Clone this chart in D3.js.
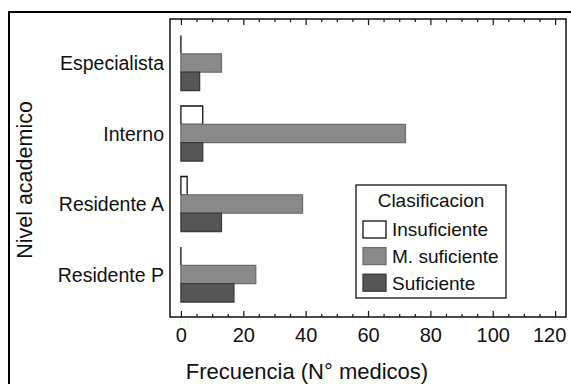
<!DOCTYPE html>
<html>
<head>
<meta charset="utf-8">
<script src="https://cdn.jsdelivr.net/npm/d3@7"></script>
<style>
  body { margin: 0; background: #fff; }
  svg text { font-family: "Liberation Sans", Arial, Helvetica, sans-serif; fill: #111; }
</style>
</head>
<body>
<script>
// chart data
const niveles = ['Especialista', 'Interno', 'Residente A', 'Residente P'];
const clases = ['Insuficiente', 'M. suficiente', 'Suficiente'];
const insuficiente = [0, 7, 2, 0];
const mSuficiente = [13, 72, 39, 24];
const suficiente = [6, 7, 13, 17];
const xTicks = [0, 20, 40, 60, 80, 100, 120];

const width = 571, height = 384;
const frame = { left: 170, right: 566, top: 19, bottom: 317 };

const fills = { 'Insuficiente': '#ffffff', 'M. suficiente': '#8a8a8a', 'Suficiente': '#565656' };
const strokes = { 'Insuficiente': '#111', 'M. suficiente': '#6e6e6e', 'Suficiente': '#3a3a3a' };

let rows = [];
niveles.forEach((n, i) => {
    rows.push({ nivel: n, clase: 'Insuficiente', value: insuficiente[i] });
    rows.push({ nivel: n, clase: 'M. suficiente', value: mSuficiente[i] });
    rows.push({ nivel: n, clase: 'Suficiente', value: suficiente[i] });
});

const svg = d3.select('body').append('svg')
    .attr('width', width)
    .attr('height', height);

// outer figure border (only top and left visible)
svg.append('path')
    .attr('d', 'M9,' + height + 'V12H' + width)
    .attr('fill', 'none')
    .attr('stroke', '#000')
    .attr('stroke-width', 2);

let xScale = d3.scaleLinear()
    .domain([-3.5, 123.5])
    .range([frame.left, frame.right]);

let yScale = d3.scaleBand()
    .domain(niveles)
    .range([27.75, 309.75])
    .paddingInner(0.22)
    .paddingOuter(0.11);

let ySub = d3.scaleBand()
    .domain(clases)
    .range([0, yScale.bandwidth()]);

// minor ticks
const minor = d3.range(0, 121, 5).filter(v => v % 20 !== 0);

svg.append('g')
    .attr('transform', 'translate(0,' + frame.bottom + ')')
    .call(d3.axisBottom(xScale).tickValues(minor).tickSizeInner(-3).tickSizeOuter(0).tickFormat(''))
    .call(g => g.select('.domain').remove());
svg.append('g')
    .attr('transform', 'translate(0,' + frame.top + ')')
    .call(d3.axisTop(xScale).tickValues(minor).tickSizeInner(-3).tickSizeOuter(0).tickFormat(''))
    .call(g => g.select('.domain').remove());

// major ticks
svg.append('g')
    .attr('class', 'axis')
    .attr('transform', 'translate(0,' + frame.bottom + ')')
    .call(d3.axisBottom(xScale).tickValues(xTicks).tickSizeInner(-6).tickSizeOuter(0).tickPadding(11))
    .call(g => g.select('.domain').remove())
    .call(g => g.selectAll('text').attr('font-size', 20).style('font-family', '"Liberation Sans", Arial, sans-serif'))
    // last label sits a bit left of its tick so it stays inside the picture
    .call(g => g.selectAll('text').filter(d => d === 120).attr('dx', -6));
svg.append('g')
    .attr('transform', 'translate(0,' + frame.top + ')')
    .call(d3.axisTop(xScale).tickValues(xTicks).tickSizeInner(-6).tickSizeOuter(0).tickFormat(''))
    .call(g => g.select('.domain').remove());

svg.selectAll('.tick line').attr('stroke', '#111').attr('stroke-width', 1.2);

// bars, drawn as paths so a zero value still shows its edge line
svg.append('g')
    .selectAll('path')
    .data(rows)
    .enter()
    .append('path')
    .attr('d', d => {
        let x0 = xScale(0), y0 = yScale(d.nivel) + ySub(d.clase);
        let w = xScale(d.value) - x0, h = ySub.bandwidth();
        return 'M' + x0 + ',' + y0 + 'h' + w + 'v' + h + 'h' + (-w) + 'Z';
    })
    .attr('fill', d => fills[d.clase])
    .attr('stroke', d => strokes[d.clase])
    .attr('stroke-width', 1.3);

// plot frame
svg.append('rect')
    .attr('x', frame.left)
    .attr('y', frame.top)
    .attr('width', frame.right - frame.left)
    .attr('height', frame.bottom - frame.top)
    .attr('fill', 'none')
    .attr('stroke', '#111')
    .attr('stroke-width', 1.5);

// category labels
svg.append('g')
    .selectAll('text')
    .data(niveles)
    .enter()
    .append('text')
    .attr('x', frame.left - 6)
    .attr('y', d => yScale(d) + yScale.bandwidth() / 2)
    .attr('dy', '0.36em')
    .attr('text-anchor', 'end')
    .attr('font-size', 19.5)
    .text(d => d);

// axis titles
svg.append('text')
    .attr('x', 307)
    .attr('y', 379)
    .attr('text-anchor', 'middle')
    .attr('font-size', 22)
    .text('Frecuencia (N° medicos)');

svg.append('text')
    .attr('transform', 'translate(32,180) rotate(-90)')
    .attr('text-anchor', 'middle')
    .attr('font-size', 21.5)
    .text('Nivel academico');

// legend
let legend = svg.append('g').attr('transform', 'translate(356,185)');
legend.append('rect')
    .attr('width', 150)
    .attr('height', 113)
    .attr('fill', '#fff')
    .attr('stroke', '#111')
    .attr('stroke-width', 1.3);
legend.append('text')
    .attr('x', 75)
    .attr('y', 22)
    .attr('text-anchor', 'middle')
    .attr('font-size', 19)
    .text('Clasificacion');
let items = legend.selectAll('.item')
    .data(clases)
    .enter()
    .append('g')
    .attr('class', 'item')
    .attr('transform', (d, i) => 'translate(7,' + (36 + i * 26.6) + ')');
items.append('rect')
    .attr('width', 23)
    .attr('height', 17)
    .attr('fill', d => fills[d])
    .attr('stroke', d => strokes[d])
    .attr('stroke-width', 1.3);
items.append('text')
    .attr('x', 29)
    .attr('y', 8.5)
    .attr('dy', '0.36em')
    .attr('font-size', 19)
    .text(d => d);
</script>
</body>
</html>
